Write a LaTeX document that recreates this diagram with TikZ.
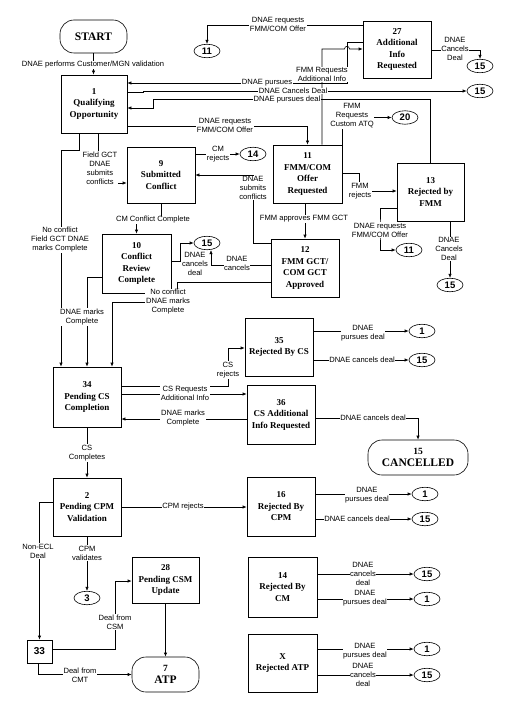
\documentclass[tikz,border=0pt]{standalone}
\usepackage{fontspec}
\setmainfont{Liberation Serif}
\newfontfamily\lsans{Liberation Sans}
\usetikzlibrary{arrows.meta,shapes.geometric}
\begin{document}
\begin{tikzpicture}[x=1pt,y=-1pt,
  box/.style={draw,line width=0.6pt,fill=white,align=center,inner sep=0pt,font=\bfseries\fontsize{9}{11.5}\selectfont},
  term/.style={draw,line width=0.6pt,fill=white,rounded corners=14pt,align=center,inner sep=0pt,font=\bfseries\fontsize{11.5}{12.5}\selectfont},
  oval/.style={draw,ellipse,line width=0.6pt,fill=white,inner sep=0pt,minimum width=26pt,minimum height=13.5pt,font=\lsans\bfseries\fontsize{9.5}{10}\selectfont},
  lbl/.style={fill=white,inner sep=0.6pt,align=center,font=\lsans\fontsize{7.6}{9}\selectfont},
  conn/.style={line width=0.6pt},
  arr/.style={conn,-{Latex[length=4pt,width=3.2pt]}}
]
\useasboundingbox (0,0) rectangle (511,714);

% ---------- nodes ----------
\node[term,minimum width=67pt,minimum height=33pt] (start) at (93.5,36.5) {START};
\node[box,minimum width=66pt,minimum height=58pt] (b1) at (94,104) {1\\Qualifying\\Opportunity};
\node[oval] (o11a) at (207,51) {11};
\node[box,minimum width=68pt,minimum height=57pt] (b27) at (397,49.5) {27\\Additional\\Info\\Requested};
\node[oval] (o15a) at (480,66) {15};
\node[oval] (o15b) at (480,91) {15};
\node[box,minimum width=68pt,minimum height=56pt] (b9) at (161,175) {9\\Submitted\\Conflict};
\node[oval] (o14) at (253,154) {14};
\node[box,minimum width=69pt,minimum height=58pt] (b11) at (307.5,174) {11\\FMM/COM\\Offer\\Requested};
\node[oval] (o20) at (405,117.5) {20};
\node[box,minimum width=67pt,minimum height=58pt] (b13) at (430.5,192) {13\\Rejected by\\FMM};
\node[box,minimum width=68pt,minimum height=58pt] (b12) at (305,268) {12\\FMM GCT/\\COM GCT\\Approved};
\node[oval] (o11b) at (409,250) {11};
\node[oval] (o15c) at (450,285) {15};
\node[box,minimum width=69pt,minimum height=59pt] (b10) at (136.5,263.5) {10\\Conflict\\Review\\Complete};
\node[oval] (o15d) at (207,243) {15};
\node[box,minimum width=68pt,minimum height=60pt] (b34) at (87,397) {34\\Pending CS\\Completion};
\node[box,minimum width=68pt,minimum height=58pt] (b35) at (279,347) {35\\Rejected By CS};
\node[box,minimum width=68pt,minimum height=59pt] (b36) at (281,414.5) {36\\CS Additional\\Info Requested};
\node[term,minimum width=100pt,minimum height=35pt] (cancelled) at (418,457.5) {{\fontsize{9.5}{11}\selectfont 15}\\CANCELLED};
\node[oval] (o1a) at (422,331) {1};
\node[oval] (o15e) at (422,360) {15};
\node[box,minimum width=68pt,minimum height=58pt] (b2) at (87,507) {2\\Pending CPM\\Validation};
\node[box,minimum width=68pt,minimum height=59pt] (b16) at (281,506.5) {16\\Rejected By\\CPM};
\node[oval] (o1b) at (425,494) {1};
\node[oval] (o15f) at (425,519) {15};
\node[draw,line width=0.6pt,fill=white,inner sep=0pt,minimum width=25pt,minimum height=23pt,font=\lsans\bfseries\fontsize{10}{11}\selectfont] (b33) at (39.5,651.5) {33};
\node[oval] (o3) at (87,598) {3};
\node[box,minimum width=67pt,minimum height=46pt] (b28) at (165.5,580) {28\\Pending CSM\\Update};
\node[term,minimum width=67pt,minimum height=35pt] (atp) at (165.5,674.5) {{\fontsize{9.5}{11}\selectfont 7}\\ATP};
\node[box,minimum width=69pt,minimum height=60pt] (b14) at (282.5,587) {14\\Rejected By\\CM};
\node[oval] (o15g) at (427,574) {15};
\node[oval] (o1c) at (427,599) {1};
\node[box,minimum width=69pt,minimum height=58pt] (bx) at (282.5,663) {X\\Rejected ATP};
\node[oval] (o1d) at (427,649) {1};
\node[oval] (o15h) at (427,675) {15};

% ---------- connectors ----------
\draw[arr] (start.south) -- (start.south |- b1.north);
\draw[arr] (b27.west |- 0,25) -| (o11a.north);
\draw[arr] (b27.east |- 0,50) -| (o15a.north);
\draw[arr] (b11.north -| 322,0) -- (322,49) -- (344.5,49) .. controls (344.5,45.5) and (349.5,45.5) .. (349.5,49) -- (b27.west |- 0,49);
\draw[arr] (b27.west |- 0,42) -- (347,42) -- (347,83) -- (b1.east |- 0,83);
\draw[arr] (b1.east |- 0,92) -- (143,92) -- (143,91) -- (o15b.west);
\draw[arr] (b13.north) |- (153,99.5) -- (153,108) -- (b1.east |- 0,108);
\draw[arr] (b1.east |- 0,126) -| (b11.north);
\draw[arr] (b1.south -| 98,0) |- (b9.west |- 0,183);
\draw[arr] (b9.east |- o14.west) -- (o14.west);
\draw[arr] (b12.west |- 0,243) -| (253,175) -- (b9.east |- 0,175);
\draw[arr] (b11.north east) |- (o20.west);
\draw[arr] (b11.east |- 0,173) -- (359,173) |- (b13.west |- 0,191);
\draw[arr] (b11.south -| b12.north) -- (b12.north);
\draw[arr] (b13.west |- 0,208) -| (380,230) |- (o11b.west);
\draw[arr] (b13.south -| o15c.north) -- (o15c.north);
\draw[arr] (b9.south) -- (b9.south |- 0,219) -| (b10.north);
\draw[arr] (b10.east |- 0,261) -- (180,261) |- (o15d.west);
\draw[arr] (b12.west |- 0,265) -| (o15d.south -| 211,0);
\draw[arr] (b12.west |- 0,282) -- (177,282) -- (177,302) -- (112,302) -- (b34.north -| 112,0);
\draw[arr] (b10.west |- 0,277) -| (b34.north);
\draw[arr] (b1.south -| 79,0) -- (79,150) -| (b34.north -| 61,0);
\draw[arr] (b34.east |- 0,386) -- (228,386) |- (b35.west |- 0,348);
\draw[arr] (b34.east |- 0,394) -- (b36.west |- 0,394);
\draw[arr] (b36.west |- 0,419) -- (b34.east |- 0,419);
\draw[arr] (b36.east |- 0,418) -| (cancelled.north);
\draw[arr] (b35.east |- o1a.west) -- (o1a.west);
\draw[arr] (b35.east |- o15e.west) -- (o15e.west);
\draw[arr] (b34.south) -- (b2.north);
\draw[arr] (b2.east) -- (b16.west |- b2.east);
\draw[arr] (b16.east |- o1b.west) -- (o1b.west);
\draw[arr] (b16.east |- o15f.west) -- (o15f.west);
\draw[arr] (b2.west |- 0,502) -| (b33.north);
\draw[arr] (b2.south) -- (o3.north);
\draw[arr] (b33.east |- 0,649) -- (115,649) |- (b28.west |- 0,581);
\draw[arr] (b28.south) -- (atp.north);
\draw[arr] (b33.south -| 38,0) |- (atp.west);
\draw[arr] (b14.east |- o15g.west) -- (o15g.west);
\draw[arr] (b14.east |- o1c.west) -- (o1c.west);
\draw[arr] (bx.east |- o1d.west) -- (o1d.west);
\draw[arr] (bx.east |- o15h.west) -- (o15h.west);

% ---------- labels ----------
\node[lbl] (l1) at (93,65) {DNAE performs Customer/MGN validation};
\node[lbl] (l2) at (278,24.5) {DNAE requests\\FMM/COM Offer};
\node[lbl] (l3) at (455,49) {DNAE\\Cancels\\Deal};
\node[lbl] (l4) at (322,74.5) {FMM Requests\\Additional Info};
\node[lbl] (l5) at (267,83) {DNAE pursues};
\node[lbl] (l6) at (293,91) {DNAE Cancels Deal};
\node[lbl] (l7) at (287,99.5) {DNAE pursues deal};
\node[lbl] (l8) at (225,125.5) {DNAE requests\\FMM/COM Offer};
\node[lbl] (l9) at (100,168) {Field GCT\\DNAE\\submits\\conflicts};
\node[lbl] (l10) at (218,154) {CM\\rejects};
\node[lbl] (l11) at (253,188) {DNAE\\submits\\conflicts};
\node[lbl] (l12) at (352,116) {FMM\\Requests\\Custom ATQ};
\node[lbl] (l13) at (360,191) {FMM\\rejects};
\node[lbl] (l14) at (304,219) {FMM approves FMM GCT};
\node[lbl] (l15) at (380,230) {DNAE requests\\FMM/COM Offer};
\node[lbl] (l16) at (449,249) {DNAE\\Cancels\\Deal};
\node[lbl] (l17) at (153,220) {CM Conflict Complete};
\node[lbl] (l18) at (195,264) {DNAE\\cancels\\deal};
\node[lbl] (l19) at (237,263) {DNAE\\cancels};
\node[lbl] (l20) at (168,302) {No conflict\\DNAE marks\\Complete};
\node[lbl] (l21) at (82,317) {DNAE marks\\Complete};
\node[lbl] (l22) at (60,240) {No conflict\\Field GCT DNAE\\marks Complete};
\node[lbl] (l23) at (228,370) {CS\\rejects};
\node[lbl] (l24) at (185,393) {CS Requests\\Additional Info};
\node[lbl] (l25) at (183,418) {DNAE marks\\Complete};
\node[lbl] (l26) at (373,418) {DNAE cancels deal};
\node[lbl] (l27) at (363,333) {DNAE\\pursues deal};
\node[lbl] (l28) at (362,360) {DNAE cancels deal};
\node[lbl] (l29) at (87,453) {CS\\Completes};
\node[lbl] (l30) at (183,507) {CPM rejects};
\node[lbl] (l31) at (367,495) {DNAE\\pursues deal};
\node[lbl] (l32) at (357,519) {DNAE cancels deal};
\node[lbl] (l33) at (38,551) {Non-ECL\\Deal};
\node[lbl] (l34) at (87,553) {CPM\\validates};
\node[lbl] (l35) at (115,622) {Deal from\\CSM};
\node[lbl] (l36) at (80,675) {Deal from\\CMT};
\node[lbl] (l37) at (363,574) {DNAE\\cancels\\deal};
\node[lbl] (l38) at (365,598) {DNAE\\pursues deal};
\node[lbl] (l39) at (365,651) {DNAE\\pursues deal};
\node[lbl] (l40) at (363,675) {DNAE\\cancels\\deal};
\end{tikzpicture}
\end{document}
